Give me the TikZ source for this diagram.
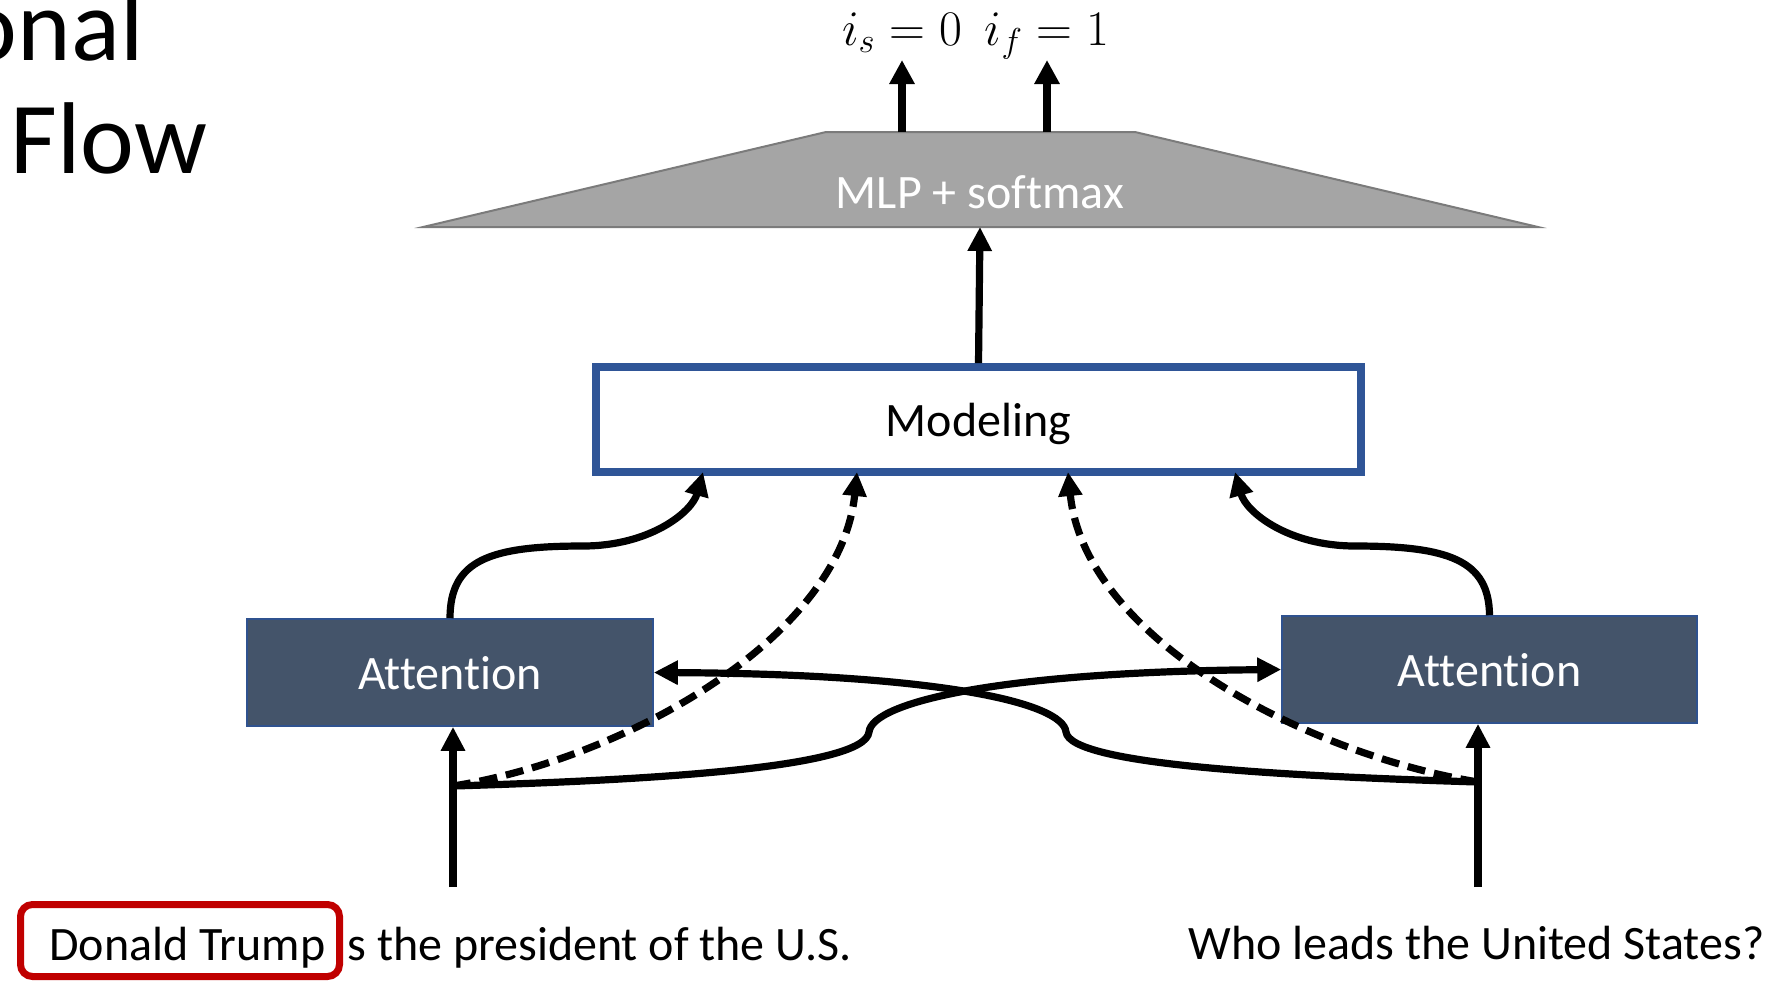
\documentclass[tikz,border=0pt]{standalone}
\usepackage{fontspec}
\setmainfont{Carlito}[Ligatures={NoCommon}]
\usetikzlibrary{arrows.meta}
\definecolor{attfill}{HTML}{44546A}
\definecolor{attedge}{HTML}{2F528F}
\definecolor{modedge}{HTML}{2F5597}
\definecolor{mlpfill}{HTML}{A5A5A5}
\definecolor{mlpedge}{HTML}{7B7B7B}
\definecolor{redbox}{HTML}{C00000}
\begin{document}
\begin{tikzpicture}[x=0.5pt,y=-0.5pt,
  flow/.style={line width=3.6pt, -{Triangle[length=12pt,width=11.5pt]}},
  bigflow/.style={line width=3.6pt, -{Triangle[length=12pt,width=12pt]}},
  dashflow/.style={flow, dash pattern=on 9pt off 4.5pt},
  attbox/.style={draw=attedge, line width=0.8pt, fill=attfill, text=white,
    minimum height=53.5pt, inner sep=0pt, text depth=0pt,
    font=\fontsize{24}{29}\selectfont},
  modbox/.style={draw=modedge, line width=3.85pt, fill=white,
    minimum width=382.5pt, minimum height=52.5pt, inner sep=0pt, text depth=0pt,
    font=\fontsize{24}{29}\selectfont},
  plain/.style={inner sep=0pt, font=\fontsize{24}{29}\selectfont},
  titletext/.style={inner sep=0pt, font=\fontsize{51}{60}\selectfont},
  mathlabel/.style={inner sep=0pt, font=\fontsize{24}{29}\selectfont},
]
\useasboundingbox (0,0) rectangle (1791,980);

% title fragments
\node[titletext, anchor=base east] (t1) at (144,60) {onal};
\node[titletext, anchor=base west] (t2) at (10,173) {Flow};

% MLP trapezoid
\draw[fill=mlpfill, draw=mlpedge, line width=1pt]
  (423,227) -- (826,132) -- (1135,132) -- (1538,227) -- cycle;
\node[plain, text=white] (mlp) at (980,192) {MLP + softmax};
\coordinate (mlpB) at (980,227);
\coordinate (oS) at (902,132);
\coordinate (oF) at (1047,132);

% output labels
\node[mathlabel, anchor=base] (ls) at (902,45) {$i_s = 0$};
\node[mathlabel, anchor=base] (lf) at (1047,45) {$i_f = 1$};
\coordinate (tS) at (902,60);
\coordinate (tF) at (1047,60);

% Modeling
\node[modbox] (model) at (978.5,419.5) {Modeling};

% Attention boxes
\node[attbox, minimum width=203pt] (attL) at (450,672.5) {Attention};
\node[attbox, minimum width=207.5pt] (attR) at (1489.5,669.5) {Attention};

% sentences
\node[plain, anchor=base west] (dt) at (49,960) {Donald Trump};
\node[draw=redbox, line width=3.5pt, rounded corners=6pt,
  minimum width=159.5pt, minimum height=36pt] (dtbox) at (180,940.5) {};
\node[plain, anchor=base west] (rest) at (347,960) {s the president of the U.S.};
\node[plain, anchor=base west] (q) at (1188,959) {Who leads the United States?};

% helper coordinates
\coordinate (botL) at (453,887);
\coordinate (botR) at (1478,887);
\coordinate (jl) at (453,786);
\coordinate (jr) at (1478,782);
\coordinate (mL1) at (703,472);
\coordinate (mL2) at (857,472);
\coordinate (mR2) at (1068,472);
\coordinate (mR1) at (1235,472);

% connectors
\draw[bigflow] (oS) -- (tS);
\draw[bigflow] (oF) -- (tF);
\draw[flow] (model.north) -- (mlpB);

\draw[flow] (botL) -- (botL |- attL.south);
\draw[flow] (botR) -- (botR |- attR.south);

\draw[dashflow] (jl) .. controls (620,760) and (840,640) .. (mL2);
\draw[dashflow] (jr) .. controls (1310,755) and (1085,640) .. (mR2);

\draw[flow] (jl) .. controls (650,780) and (865,768) .. (869,732)
  .. controls (872,702) and (1000,672) .. (attR.west);
\draw[flow] (jr) .. controls (1285,776) and (1070,765) .. (1066,732)
  .. controls (1063,702) and (935,674) .. (attL.east);

\draw[flow] (attL.north) .. controls (450,560) and (490,546) .. (583,546)
  .. controls (650,546) and (692,512) .. (mL1);
\draw[flow] (attR.north) .. controls (1489,560) and (1448,546) .. (1355,546)
  .. controls (1288,546) and (1246,512) .. (mR1);
\end{tikzpicture}
\end{document}
